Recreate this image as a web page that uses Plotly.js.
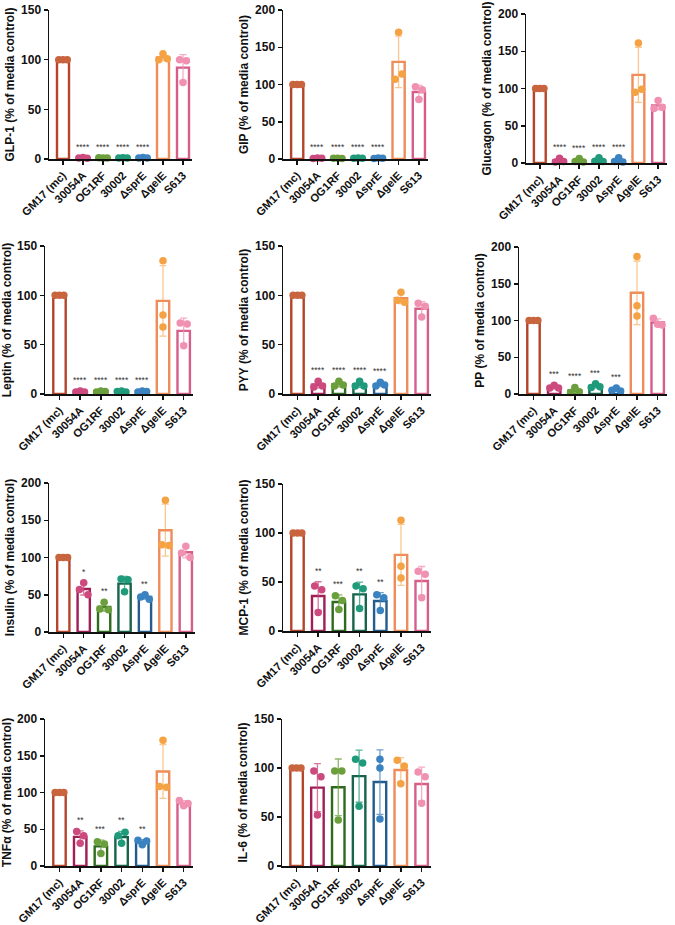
<!DOCTYPE html>
<html><head><meta charset="utf-8">
<script src="https://cdn.plot.ly/plotly-3.0.1.min.js"></script>
<style>html,body{margin:0;padding:0;background:#fff}#chart{width:675px;height:925px}</style>
</head><body><div id="chart"></div>
<script>
// ---------- DATA ----------
const categories = ['GM17 (mc)', '30054A', 'OG1RF', '30002', 'ΔsprE', 'ΔgelE', 'S613'];

// replicate values per strain (3 replicates each), % of media control
const glp1 = [[100,100,100],[1.0,1.5,0.8],[1.2,0.9,1.0],[0.9,1.3,1.1],[1.1,1.4,0.9],[100,106,101],[100,77,99]];
const gip = [[100,100,100],[0.8,1.2,0.9],[0.9,1.1,0.8],[1.0,1.2,0.9],[0.8,1.3,1.0],[107,170,114],[97,80,93]];
const glucagon = [[100,100,100],[1.5,6.5,2],[2,6,1.5],[2.5,7,2],[2,7,1.5],[95,161,99],[73,84,75]];
const leptin = [[100,100,100],[2,3,2],[2,3,2.5],[2.5,3,2],[2,3,2.5],[135,80,68],[72,49,71]];
const pyy = [[100,100,100],[7,13,8],[8,13,9],[8,13,8],[8,12,9],[95,103,93],[92,78,89]];
const pp = [[100,100,100],[8,12,8],[2,9,3],[9,14,10],[5,8,4],[187,120,106],[103,95,94]];
const insulin = [[100,100,100],[57,66,50],[31,40,30],[71,54,70],[47,50,44],[117,177,116],[106,115,100]];
const mcp1 = [[100,100,100],[46,19,42],[36,22,31],[46,23,43],[37,21,34],[113,66,54],[61,34,58]];
const tnfa = [[100,100,100],[47,31,41],[33,17,30],[41,46,31],[35,29,34],[108,171,107],[89,82,85]];
const il6 = [[100,100,100],[97,52,91],[97,47,97],[109,61,105],[109,100,48],[108,84,102],[96,64,91]];

// significance labels vs GM17 (mc)
const starsGlp1 = ['', '****', '****', '****', '****', '', ''];
const starsGip = ['', '****', '****', '****', '****', '', ''];
const starsGlucagon = ['', '****', '****', '****', '****', '', ''];
const starsLeptin = ['', '****', '****', '****', '****', '', ''];
const starsPyy = ['', '****', '****', '****', '****', '', ''];
const starsPp = ['', '***', '****', '***', '***', '', ''];
const starsInsulin = ['', '*', '**', '', '**', '', ''];
const starsMcp1 = ['', '**', '***', '**', '**', '', ''];
const starsTnfa = ['', '**', '***', '**', '**', '', ''];
const starsIl6 = ['', '', '', '', '', '', ''];

const yTitles = ['GLP-1 (% of media control)', 'GIP (% of media control)', 'Glucagon (% of media control)',
  'Leptin (% of media control)', 'PYY (% of media control)', 'PP (% of media control)',
  'Insulin (% of media control)', 'MCP-1 (% of media control)', 'TNFα (% of media control)', 'IL-6 (% of media control)'];
const yMax = [150, 200, 200, 150, 150, 200, 200, 150, 200, 150];

// ---------- STYLE ----------
const barColors = ['#B4452A', '#A01F55', '#2E6B1F', '#17644B', '#255C8B', '#EE8C5A', '#D65E89'];
const dotColors = ['#C8643E', '#CC4A7D', '#6B9F3B', '#1F9A7A', '#3B82C0', '#F5A244', '#F191B2'];
const errColors = ['rgba(200,100,62,0.75)', 'rgba(204,74,125,0.75)', 'rgba(107,159,59,0.75)', 'rgba(31,154,122,0.75)',
  'rgba(59,130,192,0.75)', 'rgba(245,162,68,0.6)', 'rgba(241,145,178,0.75)'];

// panel plot areas in px: [left, right, top, bottom]
const boxes = [
  [49, 192, 10, 159], [283, 428, 10, 159], [526, 667, 14, 163],
  [45, 193, 246, 394], [283, 431, 246, 394], [519, 667, 247, 394],
  [49, 195, 483, 632], [283, 431, 484, 631],
  [45, 193, 719, 866], [282, 431, 719, 866]
];
const W = 675, H = 925;
const FONT = 'Liberation Sans, Arial, Helvetica, sans-serif';

const datasets = [glp1, gip, glucagon, leptin, pyy, pp, insulin, mcp1, tnfa, il6];
const starSets = [starsGlp1, starsGip, starsGlucagon, starsLeptin, starsPyy, starsPp, starsInsulin, starsMcp1, starsTnfa, starsIl6];

function mean(a) { return a.reduce((s, v) => s + v, 0) / a.length; }
function sd(a) { const m = mean(a); return Math.sqrt(a.reduce((s, v) => s + (v - m) * (v - m), 0) / (a.length - 1)); }

// spread overlapping points horizontally (scatter-dot-plot style)
function offsets(vals, ymax, plotH) {
  const thr = 7 / plotH * ymax;
  const coll = vals.map((v, i) => vals.some((w, j) => i !== j && Math.abs(v - w) < thr));
  const idx = vals.map((v, i) => i).filter(i => coll[i]);
  const off = vals.map(() => 0);
  if (idx.length === 2) { off[idx[0]] = -0.17; off[idx[1]] = 0.17; }
  else if (idx.length === 3) { off[idx[0]] = -0.21; off[idx[1]] = 0; off[idx[2]] = 0.21; }
  return off;
}

const traces = [];
const annotations = [];
const layout = {
  width: W, height: H, margin: {l: 0, r: 0, t: 0, b: 0},
  paper_bgcolor: '#fff', plot_bgcolor: 'rgba(0,0,0,0)',
  showlegend: false, barmode: 'overlay',
  font: {family: FONT, color: '#111'}
};

datasets.forEach((data, p) => {
  const n = p + 1;
  const xa = 'x' + (n === 1 ? '' : n), ya = 'y' + (n === 1 ? '' : n);
  const xk = 'xaxis' + (n === 1 ? '' : n), yk = 'yaxis' + (n === 1 ? '' : n);
  const [l, r, t, b] = boxes[p];
  const plotH = b - t;
  layout[xk] = {
    domain: [l / W, r / W], anchor: ya, range: [-0.7, 6.45],
    tickmode: 'array', tickvals: categories.map((c, i) => i), ticktext: categories,
    tickangle: -45, ticks: 'outside', ticklen: 4, tickwidth: 1.5, tickcolor: '#111',
    showline: true, linewidth: 1.5, linecolor: '#111', showgrid: false, zeroline: false,
    tickfont: {family: FONT, size: 11.2, color: '#111', weight: 'bold'}, fixedrange: true
  };
  layout[yk] = {
    domain: [1 - b / H, 1 - t / H], anchor: xa, range: [0, yMax[p]], dtick: 50, tick0: 0,
    ticks: 'outside', ticklen: 4, tickwidth: 1.5, tickcolor: '#111',
    showline: true, linewidth: 1.5, linecolor: '#111', showgrid: false, zeroline: false,
    tickfont: {family: FONT, size: 12, color: '#111', weight: 'bold'}, fixedrange: true,
    title: {text: yTitles[p], standoff: 4, font: {family: FONT, size: 12, color: '#111', weight: 'bold'}}
  };
  data.forEach((vals, i) => {
    const m = mean(vals), s = sd(vals);
    traces.push({
      type: 'bar', x: [i], y: [m], width: 0.6, xaxis: xa, yaxis: ya,
      marker: {color: '#fff', line: {color: barColors[i], width: 2.4}},
      error_y: {type: 'data', array: [s], visible: s > 0.01, color: errColors[i], thickness: 1.3, width: 3.5},
      hoverinfo: 'skip'
    });
    const off = offsets(vals, yMax[p], plotH);
    traces.push({
      type: 'scatter', mode: 'markers', xaxis: xa, yaxis: ya,
      x: vals.map((v, k) => i + off[k]), y: vals,
      marker: {color: dotColors[i], size: 7.5, line: {width: 0}},
      hoverinfo: 'skip', cliponaxis: false
    });
    const star = starSets[p][i];
    if (star) {
      annotations.push({
        xref: xa, yref: ya, x: i, y: Math.max(m + s, Math.max(...vals)),
        yanchor: 'bottom', yshift: 4, showarrow: false, text: star,
        font: {family: FONT, size: 8.5, color: '#333'}
      });
    }
  });
});
layout.annotations = annotations;

Plotly.newPlot('chart', traces, layout, {displayModeBar: false, staticPlot: true});
</script>
</body></html>
